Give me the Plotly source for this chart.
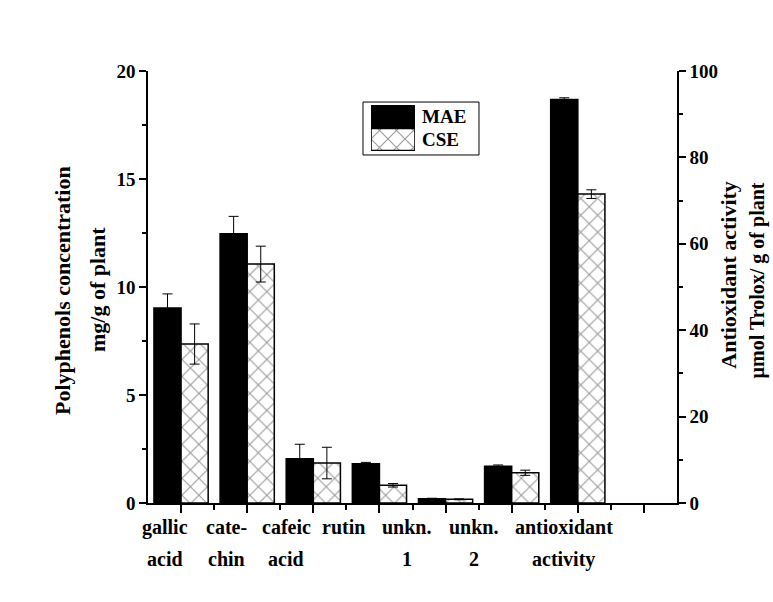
import plotly.graph_objects as go

# ---- data -------------------------------------------------------------
categories = ["gallic acid", "catechin", "cafeic acid", "rutin",
              "unkn. 1", "unkn. 2", "antioxidant activity"]
label_line1 = ["gallic", "cate-", "cafeic", "rutin", "unkn.", "unkn.", "antioxidant"]
label_line2 = ["acid", "chin", "acid", "", "1", "2", "activity"]

series_names = ["MAE", "CSE"]

# polyphenols, mg/g of plant (left axis)
mae_poly = [9.03, 12.47, 2.05, 1.82, 0.20, 1.70]
mae_poly_err = [0.65, 0.80, 0.67, 0.06, 0.02, 0.06]
cse_poly = [7.36, 11.06, 1.85, 0.82, 0.17, 1.40]
cse_poly_err = [0.93, 0.83, 0.73, 0.08, 0.02, 0.12]

# antioxidant activity, umol Trolox / g of plant (right axis)
mae_anti = [93.4]
mae_anti_err = [0.4]
cse_anti = [71.5]
cse_anti_err = [1.0]

# ---- style ------------------------------------------------------------
FONT = "Liberation Serif"
BAR_W = 0.41
label_shift_px = [-16, -21, -27, -36, -39, -38, -14]

n_poly = len(mae_poly)
x_poly = list(range(n_poly))
x_anti = [n_poly]

mae_marker = dict(color="black", line=dict(color="black", width=1.5))
cse_marker = dict(color="white", line=dict(color="black", width=1.5),
                  pattern=dict(shape="x", size=12, solidity=0.16,
                               fgcolor="#2a2a2a", bgcolor="white"))
err_style = dict(type="data", color="black", thickness=1, width=5, visible=True)

fig = go.Figure()

fig.add_trace(go.Bar(x=x_poly, y=mae_poly, width=BAR_W, offset=-BAR_W,
                     marker=mae_marker, name=series_names[0],
                     error_y=dict(array=mae_poly_err, **err_style),
                     yaxis="y", showlegend=False))
fig.add_trace(go.Bar(x=x_poly, y=cse_poly, width=BAR_W, offset=0,
                     marker=cse_marker, name=series_names[1],
                     error_y=dict(array=cse_poly_err, **err_style),
                     yaxis="y", showlegend=False))
fig.add_trace(go.Bar(x=x_anti, y=mae_anti, width=BAR_W, offset=-BAR_W,
                     marker=mae_marker, name=series_names[0],
                     error_y=dict(array=mae_anti_err, **err_style),
                     yaxis="y2", showlegend=False))
fig.add_trace(go.Bar(x=x_anti, y=cse_anti, width=BAR_W, offset=0,
                     marker=cse_marker, name=series_names[1],
                     error_y=dict(array=cse_anti_err, **err_style),
                     yaxis="y2", showlegend=False))

# legend key swatches drawn as bars in a small hidden subplot
fig.add_trace(go.Bar(x=[1], y=[1], orientation="h", width=0.95,
                     marker=mae_marker, xaxis="x3", yaxis="y3",
                     showlegend=False, hoverinfo="skip"))
fig.add_trace(go.Bar(x=[1], y=[0], orientation="h", width=0.95,
                     marker=cse_marker, xaxis="x3", yaxis="y3",
                     showlegend=False, hoverinfo="skip"))

tick_font = dict(family=FONT, size=19, color="black", weight="bold")
axis_common = dict(showline=True, linecolor="black", linewidth=1.5,
                   showgrid=False, zeroline=False, ticks="outside",
                   tickcolor="black", tickwidth=1.5, ticklen=7,
                   tickfont=tick_font)

fig.update_layout(
    width=773, height=602,
    margin=dict(l=148, r=96, t=71, b=99),
    paper_bgcolor="white", plot_bgcolor="white",
    barmode="overlay",
    font=dict(family=FONT, color="black"),
    xaxis=dict(range=[-0.5, 7.5], showline=True, linecolor="black",
               linewidth=1.5, showgrid=False, zeroline=False,
               ticks="outside", tickcolor="black", tickwidth=1.5, ticklen=8,
               tickmode="array", tickvals=list(range(8)),
               showticklabels=False,
               minor=dict(ticks="outside", tickmode="array",
                          tickvals=[i + 0.5 for i in range(7)],
                          ticklen=5, tickwidth=1.5, tickcolor="black")),
    yaxis=dict(range=[0, 20], tickmode="linear", tick0=0, dtick=5,
               minor=dict(ticks="outside", dtick=2.5, ticklen=4,
                          tickwidth=1.5, tickcolor="black"),
               **axis_common),
    yaxis2=dict(range=[0, 100], tickmode="linear", tick0=0, dtick=20,
                overlaying="y", side="right", anchor="x",
                minor=dict(ticks="outside", dtick=10, ticklen=4,
                           tickwidth=1.5, tickcolor="black"),
                **axis_common),
    xaxis3=dict(domain=[0.4216, 0.5047], range=[0, 1], anchor="y3",
                visible=False, fixedrange=True),
    yaxis3=dict(domain=[0.8148, 0.9213], range=[-0.5, 1.5], anchor="x3",
                visible=False, fixedrange=True),
)

# legend frame and labels
fig.add_shape(type="rect", xref="paper", yref="paper",
              x0=0.4064, x1=0.6257, y0=0.8056, y1=0.9282,
              line=dict(color="black", width=1))
legend_font = dict(family=FONT, size=19, color="black", weight="bold")
for name, yy in zip(series_names, [0.8958, 0.8403]):
    fig.add_annotation(text=name, xref="paper", yref="paper", x=0.514, y=yy,
                       xanchor="left", yanchor="middle", showarrow=False,
                       font=legend_font)

# category labels (two rows under the x axis)
cat_font = dict(family=FONT, size=20, color="black", weight="bold")
for i, (l1, l2) in enumerate(zip(label_line1, label_line2)):
    for txt, dy in ((l1, -24), (l2, -56)):
        if txt:
            fig.add_annotation(text=txt, xref="x", yref="paper", x=i, y=0,
                               xshift=label_shift_px[i], yshift=dy,
                               xanchor="center", yanchor="middle",
                               showarrow=False, font=cat_font)

# axis titles
left_font = dict(family=FONT, size=22, color="black", weight="bold")
right_font = dict(family=FONT, size=22, color="black", weight="bold")
right_font2 = dict(family=FONT, size=20, color="black", weight="bold")
fig.add_annotation(text="Polyphenols concentration", xref="paper", yref="paper",
                   x=-0.1626, y=0.493, textangle=-90, showarrow=False,
                   xanchor="center", yanchor="middle", font=left_font)
fig.add_annotation(text="mg/g of plant", xref="paper", yref="paper",
                   x=-0.0964, y=0.493, textangle=-90, showarrow=False,
                   xanchor="center", yanchor="middle", font=left_font)
fig.add_annotation(text="Antioxidant activity", xref="paper", yref="paper",
                   x=1.098, y=0.528, textangle=-90, showarrow=False,
                   xanchor="center", yanchor="middle", font=right_font)
fig.add_annotation(text="\u00b5mol Trolox/ g of plant", xref="paper", yref="paper",
                   x=1.152, y=0.516, textangle=-90, showarrow=False,
                   xanchor="center", yanchor="middle", font=right_font2)

fig.write_html("out.html")
